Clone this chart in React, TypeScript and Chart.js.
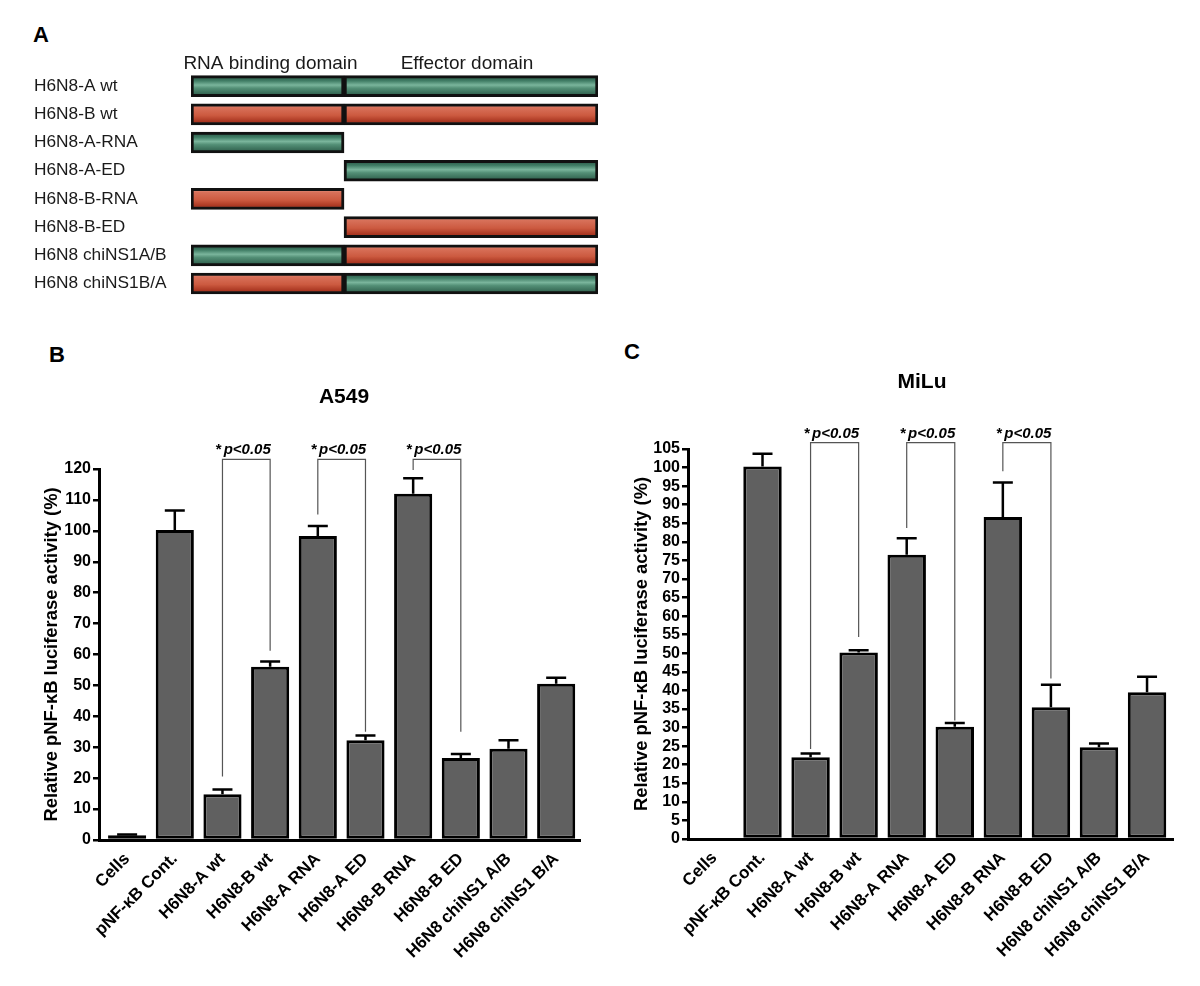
import React, { useEffect, useRef } from "react";
import { Chart, registerables } from "chart.js";
Chart.register(...registerables);

// ---------- Panel A data ----------
const constructLabels = [
  "H6N8-A wt",
  "H6N8-B wt",
  "H6N8-A-RNA",
  "H6N8-A-ED",
  "H6N8-B-RNA",
  "H6N8-B-ED",
  "H6N8 chiNS1A/B",
  "H6N8 chiNS1B/A",
];
const rnaDomainOrigin = ["A", "B", "A", null, "B", null, "A", "B"];
const effectorDomainOrigin = ["A", "B", null, "A", null, "B", "B", "A"];
const rnaDomainSpan = [0, 37.6];
const effectorDomainSpan = [37.6, 100];
const domainHeaders = ["RNA binding domain", "Effector domain"];

// ---------- Panels B / C data ----------
const categories = [
  "Cells",
  "pNF-κB Cont.",
  "H6N8-A wt",
  "H6N8-B wt",
  "H6N8-A RNA",
  "H6N8-A ED",
  "H6N8-B RNA",
  "H6N8-B ED",
  "H6N8 chiNS1 A/B",
  "H6N8 chiNS1 B/A",
];
const a549Values = [1.5, 100.3, 14.8, 56, 98.3, 32.3, 112, 26.5, 29.5, 50.5];
const a549Errors = [0.3, 6.3, 1.5, 1.7, 3.3, 1.5, 5, 1.3, 2.8, 2];
const miluValues = [0, 100.3, 22, 50.2, 76.5, 30.2, 86.7, 35.5, 24.7, 39.5];
const miluErrors = [0, 3.4, 1, 0.6, 4.5, 1, 9.3, 6, 1, 4.2];

const comparisonPairs = [
  [2, 3],
  [4, 5],
  [6, 7],
];
const a549BracketTop = 123.1;
const a549BracketLeftEnds = [20.5, 105.3, 119.7];
const a549BracketRightEnds = [61.2, 35, 35];
const miluBracketTop = 106.7;
const miluBracketLeftEnds = [24.2, 83.7, 99];
const miluBracketRightEnds = [54.4, 31.9, 43.2];
const significanceStar = "*";
const significanceLabel = "p<0.05";
const yAxisTitle = "Relative pNF-κB luciferase activity (%)";

const FONT = "Arial, 'Liberation Sans', Helvetica, sans-serif";

function domainFill(origins: (string | null)[]) {
  return (c: any) => {
    const o = origins[c.dataIndex];
    const base = o === "A" ? "#3f7d63" : "#c85a41";
    const chart = c.chart;
    const ys = chart && chart.scales && chart.scales.y;
    if (!ys || c.dataIndex === undefined) return base;
    const yc = ys.getPixelForValue(c.dataIndex);
    if (!isFinite(yc)) return base;
    const g = chart.ctx.createLinearGradient(0, yc - 10.5, 0, yc + 10.5);
    if (o === "A") {
      g.addColorStop(0, "#234c3d");
      g.addColorStop(0.25, "#417e66");
      g.addColorStop(0.45, "#7ab59c");
      g.addColorStop(0.6, "#538f76");
      g.addColorStop(1, "#285644");
    } else {
      g.addColorStop(0, "#eab0a2");
      g.addColorStop(0.18, "#d8715a");
      g.addColorStop(0.55, "#cc5a40");
      g.addColorStop(0.85, "#a83520");
      g.addColorStop(1, "#e0a59a");
    }
    return g;
  };
}

function DomainPanel() {
  const ref = useRef<HTMLCanvasElement>(null);
  useEffect(() => {
    if (!ref.current) return;
    const headerPlugin = {
      id: "domainHeaders",
      afterDraw(chart: any) {
        const { ctx } = chart;
        const x = chart.scales.x;
        ctx.save();
        ctx.fillStyle = "#1a1a1a";
        ctx.font = `19px ${FONT}`;
        ctx.textAlign = "center";
        ctx.textBaseline = "middle";
        const spans = [rnaDomainSpan, effectorDomainSpan];
        const shifts = [3, -4];
        spans.forEach((s, i) => {
          const cx = (x.getPixelForValue(s[0]) + x.getPixelForValue(s[1])) / 2 + shifts[i];
          ctx.fillText(domainHeaders[i], cx, 14);
        });
        ctx.restore();
      },
    };
    const chart = new Chart(ref.current, {
      type: "bar",
      data: {
        labels: constructLabels,
        datasets: [
          {
            label: domainHeaders[0],
            data: rnaDomainOrigin.map((o) => (o ? rnaDomainSpan : null)) as any,
            backgroundColor: domainFill(rnaDomainOrigin) as any,
            borderColor: "#111",
            borderWidth: 3,
            borderSkipped: false,
            barThickness: 21,
            grouped: false,
          } as any,
          {
            label: domainHeaders[1],
            data: effectorDomainOrigin.map((o) => (o ? effectorDomainSpan : null)) as any,
            backgroundColor: domainFill(effectorDomainOrigin) as any,
            borderColor: "#111",
            borderWidth: 3,
            borderSkipped: false,
            barThickness: 21,
            grouped: false,
          } as any,
        ],
      },
      options: {
        indexAxis: "y",
        responsive: false,
        animation: false,
        devicePixelRatio: 1,
        layout: { padding: { left: 4, right: 12, top: 22, bottom: 0 } },
        plugins: { legend: { display: false }, tooltip: { enabled: false } },
        scales: {
          x: { type: "linear", min: 0, max: 100, display: false },
          y: {
            type: "category",
            grid: { display: false },
            border: { display: false },
            ticks: {
              crossAlign: "far",
              color: "#1a1a1a",
              font: { family: FONT, size: 17.3 },
              padding: 0,
            },
            afterFit: (s: any) => {
              s.width = 157;
            },
          },
        },
      } as any,
      plugins: [headerPlugin],
    });
    return () => chart.destroy();
  }, []);
  return (
    <canvas
      ref={ref}
      width={580}
      height={258}
      style={{ position: "absolute", left: 30, top: 50, width: 580, height: 258 }}
    />
  );
}

type BarPanelProps = {
  left: number;
  top: number;
  width: number;
  height: number;
  values: number[];
  errors: number[];
  yMax: number;
  yStep: number;
  title: string;
  titleX: number;
  titleY: number;
  bracketTop: number;
  leftEnds: number[];
  rightEnds: number[];
  padTop: number;
  padRight: number;
  axisWidth: number;
  xAxisHeight: number;
  xMin: number;
  xMax: number;
};

function BarPanel(p: BarPanelProps) {
  const ref = useRef<HTMLCanvasElement>(null);
  useEffect(() => {
    if (!ref.current) return;
    const annot = {
      id: "annot",
      afterDatasetsDraw(chart: any) {
        const { ctx } = chart;
        const x = chart.scales.x;
        const y = chart.scales.y;
        const meta = chart.getDatasetMeta(0);
        ctx.save();
        ctx.strokeStyle = "#000";
        ctx.lineWidth = 2.5;
        p.values.forEach((v, i) => {
          const e = p.errors[i];
          if (!e || !v) return;
          const el = meta.data[i];
          const xc = el.x;
          const y0 = y.getPixelForValue(v);
          const y1 = y.getPixelForValue(v + e);
          ctx.beginPath();
          ctx.moveTo(xc, y0);
          ctx.lineTo(xc, y1);
          ctx.moveTo(xc - 10, y1);
          ctx.lineTo(xc + 10, y1);
          ctx.stroke();
        });
        ctx.strokeStyle = "#555";
        ctx.lineWidth = 1.2;
        comparisonPairs.forEach(([a, b], k) => {
          const xa = x.getPixelForValue(a);
          const xb = x.getPixelForValue(b);
          const yt = y.getPixelForValue(p.bracketTop);
          ctx.beginPath();
          ctx.moveTo(xa, y.getPixelForValue(p.leftEnds[k]));
          ctx.lineTo(xa, yt);
          ctx.lineTo(xb, yt);
          ctx.lineTo(xb, y.getPixelForValue(p.rightEnds[k]));
          ctx.stroke();
          ctx.fillStyle = "#000";
          ctx.textBaseline = "alphabetic";
          ctx.textAlign = "left";
          ctx.font = `bold 15px ${FONT}`;
          const ws = ctx.measureText(significanceStar).width;
          ctx.font = `italic bold 15px ${FONT}`;
          const wl = ctx.measureText(significanceLabel).width;
          const total = ws + 2 + wl;
          const x0 = (xa + xb) / 2 - 3 - total / 2;
          ctx.font = `bold 15px ${FONT}`;
          ctx.fillText(significanceStar, x0, yt - 5);
          ctx.font = `italic bold 15px ${FONT}`;
          ctx.fillText(significanceLabel, x0 + ws + 2, yt - 5);
        });
        ctx.fillStyle = "#000";
        ctx.font = `bold 21px ${FONT}`;
        ctx.textAlign = "center";
        ctx.textBaseline = "middle";
        ctx.fillText(p.title, p.titleX, p.titleY);
        ctx.restore();
      },
    };
    const chart = new Chart(ref.current, {
      type: "bar",
      data: {
        datasets: [
          {
            data: p.values.map((v, i) => ({ x: i, y: v })),
            backgroundColor: "#606060",
            borderColor: "#000",
            borderWidth: ((c: any) => (p.values[c.dataIndex] > 0 ? 3 : 0)) as any,
            borderSkipped: false,
            barPercentage: 0.8,
            categoryPercentage: 1,
          },
        ],
      },
      options: {
        responsive: false,
        animation: false,
        devicePixelRatio: 1,
        layout: { padding: { left: 0, right: p.padRight, top: p.padTop, bottom: 0 } },
        plugins: { legend: { display: false }, tooltip: { enabled: false } },
        scales: {
          x: {
            type: "linear",
            offset: false,
            min: p.xMin,
            max: p.xMax,
            afterBuildTicks: (s: any) => {
              s.ticks = categories.map((_, i) => ({ value: i }));
            },
            ticks: {
              autoSkip: false,
              minRotation: 45,
              maxRotation: 45,
              color: "#000",
              padding: 1,
              font: { family: FONT, size: 17, weight: "bold" },
              callback: (_v: any, i: number) => categories[i],
            },
            grid: { display: false, offset: false },
            border: { display: true, color: "#000", width: 3 },
            afterFit: (s: any) => {
              s.height = p.xAxisHeight;
            },
          },
          y: {
            min: 0,
            max: p.yMax,
            ticks: {
              stepSize: p.yStep,
              autoSkip: false,
              color: "#000",
              padding: 2,
              font: { family: FONT, size: 16, weight: "bold" },
            },
            grid: {
              drawOnChartArea: false,
              drawTicks: true,
              tickLength: 6,
              color: "#000",
              lineWidth: 2.5,
            },
            border: { display: true, color: "#000", width: 3 },
            title: {
              display: true,
              text: yAxisTitle,
              color: "#000",
              padding: 4,
              font: { family: FONT, size: 18.4, weight: "bold" },
            },
            afterFit: (s: any) => {
              s.width = p.axisWidth;
            },
          },
        },
      } as any,
      plugins: [annot],
    });
    return () => chart.destroy();
  }, []);
  return (
    <canvas
      ref={ref}
      width={p.width}
      height={p.height}
      style={{ position: "absolute", left: p.left, top: p.top, width: p.width, height: p.height }}
    />
  );
}

const letterStyle = (left: number, top: number): React.CSSProperties => ({
  position: "absolute",
  left,
  top,
  font: `bold 22px ${FONT}`,
  lineHeight: "22px",
  color: "#000",
});

export default function App() {
  return (
    <div
      style={{
        position: "absolute",
        left: 0,
        top: 0,
        width: 1200,
        height: 986,
        background: "#fff",
        overflow: "hidden",
      }}
    >
      <div style={letterStyle(33, 24)}>A</div>
      <div style={letterStyle(49, 344)}>B</div>
      <div style={letterStyle(624, 341)}>C</div>
      <DomainPanel />
      <BarPanel
        left={37}
        top={330}
        width={563}
        height={656}
        values={a549Values}
        errors={a549Errors}
        yMax={120}
        yStep={10}
        title="A549"
        titleX={307}
        titleY={67}
        bracketTop={a549BracketTop}
        leftEnds={a549BracketLeftEnds}
        rightEnds={a549BracketRightEnds}
        padTop={139}
        padRight={20}
        axisWidth={62}
        xAxisHeight={146}
        xMin={-0.59}
        xMax={9.5}
      />
      <BarPanel
        left={627}
        top={330}
        width={563}
        height={656}
        values={miluValues}
        errors={miluErrors}
        yMax={105}
        yStep={5}
        title="MiLu"
        titleX={295}
        titleY={52}
        bracketTop={miluBracketTop}
        leftEnds={miluBracketLeftEnds}
        rightEnds={miluBracketRightEnds}
        padTop={119}
        padRight={17}
        axisWidth={61}
        xAxisHeight={147}
        xMin={-0.55}
        xMax={9.54}
      />
    </div>
  );
}
